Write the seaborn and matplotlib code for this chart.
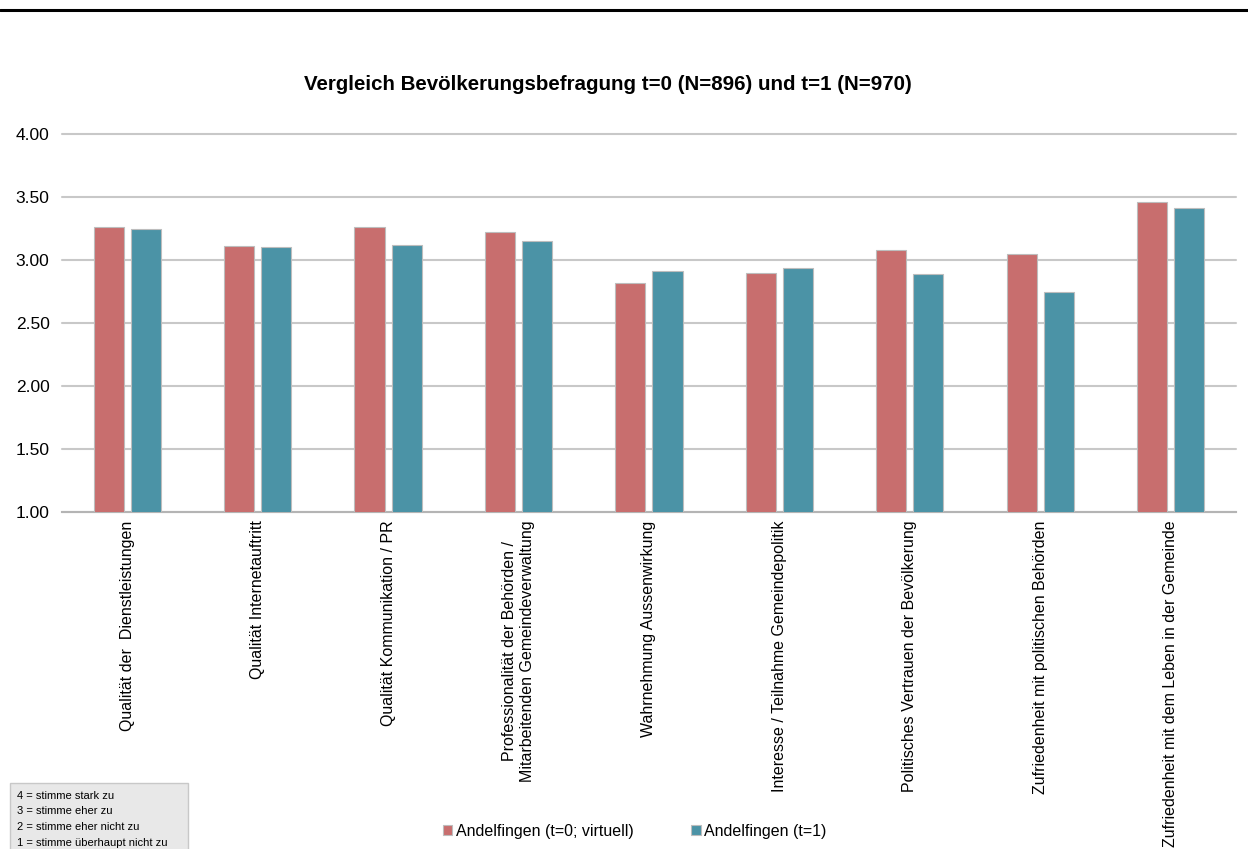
import numpy as np
import pandas as pd
import matplotlib
matplotlib.use("Agg")
import matplotlib.pyplot as plt
import seaborn as sns

categories = [
    "Qualität der  Dienstleistungen",
    "Qualität Internetauftritt",
    "Qualität Kommunikation / PR",
    "Professionalität der Behörden /\nMitarbeitenden Gemeindeverwaltung",
    "Wahrnehmung Aussenwirkung",
    "Interesse / Teilnahme Gemeindepolitik",
    "Politisches Vertrauen der Bevölkerung",
    "Zufriedenheit mit politischen Behörden",
    "Zufriedenheit mit dem Leben in der Gemeinde",
]
series_names = ["Andelfingen (t=0; virtuell)", "Andelfingen (t=1)"]
t0_values = [3.26, 3.11, 3.26, 3.22, 2.82, 2.90, 3.08, 3.05, 3.46]
t1_values = [3.25, 3.10, 3.12, 3.15, 2.91, 2.94, 2.89, 2.75, 3.41]
yticks = [1.00, 1.50, 2.00, 2.50, 3.00, 3.50, 4.00]
scale_notes = [
    "4 = stimme stark zu",
    "3 = stimme eher zu",
    "2 = stimme eher nicht zu",
    "1 = stimme überhaupt nicht zu",
]
colors = ["#C86E6E", "#4B93A6"]

df = pd.DataFrame({
    "Kategorie": categories * 2,
    "Wert": t0_values + t1_values,
    "Serie": [series_names[0]] * len(categories) + [series_names[1]] * len(categories),
})

sns.set_style("white")
plt.rcParams["font.family"] = ["Liberation Sans", "DejaVu Sans"]
plt.rcParams["text.color"] = "black"
plt.rcParams["xtick.color"] = "black"
plt.rcParams["ytick.color"] = "black"

fig = plt.figure(figsize=(12.48, 8.49), dpi=100)
ax = fig.add_axes([0.0497, 0.397, 0.9405, 0.445])

sns.barplot(data=df, x="Kategorie", y="Wert", hue="Serie", palette=colors,
            saturation=1, width=0.57, gap=0.19, edgecolor="#BDBDBD", linewidth=0.8,
            errorbar=None, ax=ax, zorder=3)

ax.set_ylim(1.0, 4.0)
ax.set_yticks(yticks)
ax.set_yticklabels([f"{v:.2f}" for v in yticks], fontsize=12.5)
ax.set_xlim(-0.5, len(categories) - 0.5)
ax.set_xticks(range(len(categories)))
ax.set_xticklabels(categories, rotation=90, fontsize=11.5, va="top", ha="center",
                   multialignment="center")
ax.tick_params(axis="both", length=0, pad=6)
ax.tick_params(axis="y", pad=9)
ax.set_xlabel("")
ax.set_ylabel("")
ax.yaxis.grid(True, color="#C8C8C8", linewidth=1.5, zorder=0)
for gl in ax.get_ygridlines():
    gl.set_clip_on(False)
ax.set_axisbelow(True)
for side in ["top", "right", "left"]:
    ax.spines[side].set_visible(False)
ax.spines["bottom"].set_color("#B4B4B4")
ax.spines["bottom"].set_linewidth(1.5)

fig.text(608 / 1248, 0.9, "Vergleich Bevölkerungsbefragung t=0 (N=896) und t=1 (N=970)",
         ha="center", va="center", fontsize=14.8, fontweight="bold")

# top black rule
fig.add_artist(plt.Line2D([0, 1], [0.988, 0.988], color="black", linewidth=2.2,
                          transform=fig.transFigure))

handles, labels = ax.get_legend_handles_labels()
ax.legend(handles, labels, loc="center", bbox_to_anchor=(0.5084, 0.021),
          bbox_transform=fig.transFigure, ncol=2, frameon=False, fontsize=11.5,
          handlelength=0.6, handleheight=0.6, handletextpad=0.2,
          columnspacing=3.6)

# scale explanation box
box = plt.Rectangle((10 / 1248, -0.01), 178 / 1248, (849 - 783) / 849 + 0.01,
                    transform=fig.transFigure, facecolor="#E8E8E8",
                    edgecolor="#C8C8C8", linewidth=1.0)
fig.add_artist(box)
for i, note in enumerate(scale_notes):
    fig.text(17 / 1248, 1 - (796 + i * 15.5) / 849, note, ha="left", va="center",
             fontsize=8, family=["Liberation Sans Narrow", "Liberation Sans"])

fig.savefig("out.png", dpi=100)
